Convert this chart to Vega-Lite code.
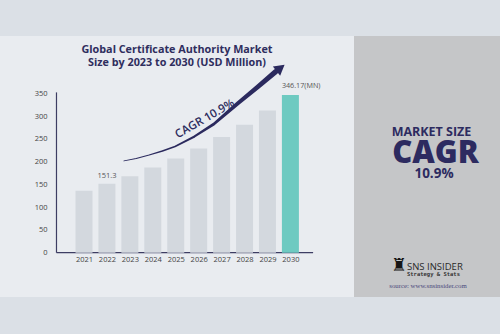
{
  "$schema": "https://vega.github.io/schema/vega-lite/v6.json",
  "background": "#dbe0e6",
  "padding": {"top": 36, "bottom": 37, "left": 0, "right": 0},
  "spacing": 0,
  "bounds": "flush",
  "config": {"view": {"stroke": null}, "font": "Open Sans"},
  "hconcat": [
    {
      "width": 354,
      "height": 261,
      "view": {"fill": "#e9ecf0"},
      "title": {
        "text": ["Global Certificate Authority Market", "Size by 2023 to 2030 (USD Million)"],
        "frame": "group",
        "anchor": "middle",
        "offset": -32,
        "fontSize": 10.8,
        "fontWeight": "bold",
        "color": "#2f2e5e",
        "lineHeight": 13.4,
        "font": "Open Sans"
      },
      "layer": [
        {
          "data": {"values": [{"a": 1}]},
          "mark": {"type": "rule", "stroke": "#3d3d63", "strokeWidth": 1.2},
          "encoding": {
            "x": {
              "datum": 2019.8,
              "type": "quantitative",
              "scale": {"domain": [2017.555, 2032.555], "nice": false, "zero": false},
              "axis": {
                "offset": -44.3,
                "values": [2021, 2022, 2023, 2024, 2025, 2026, 2027, 2028, 2029, 2030],
                "format": "d",
                "domain": false,
                "ticks": false,
                "tickSize": 0,
                "grid": false,
                "labelPadding": 3,
                "labelFontSize": 7.5,
                "labelColor": "#444",
                "labelFlush": false,
                "labelOverlap": false,
                "zindex": 1,
                "title": null
              }
            },
            "x2": {"datum": 2030.99},
            "y": {
              "datum": 0,
              "type": "quantitative",
              "scale": {"domain": [-97.3, 475.8], "nice": false, "zero": false},
              "axis": {
                "orient": "left",
                "offset": -53,
                "values": [0, 50, 100, 150, 200, 250, 300, 350],
                "domain": false,
                "ticks": false,
                "tickSize": 0,
                "grid": false,
                "labelPadding": 6,
                "labelFontSize": 7.5,
                "labelColor": "#444",
                "labelOverlap": false,
                "zindex": 1,
                "title": null
              }
            }
          }
        },
        {
          "data": {"values": [{"a": 1}]},
          "mark": {"type": "rule", "stroke": "#3d3d63", "strokeWidth": 1.2},
          "encoding": {
            "x": {
              "datum": 2019.8,
              "type": "quantitative",
              "scale": {"domain": [2017.555, 2032.555], "nice": false, "zero": false},
              "axis": {
                "offset": -44.3,
                "values": [2021, 2022, 2023, 2024, 2025, 2026, 2027, 2028, 2029, 2030],
                "format": "d",
                "domain": false,
                "ticks": false,
                "tickSize": 0,
                "grid": false,
                "labelPadding": 3,
                "labelFontSize": 7.5,
                "labelColor": "#444",
                "labelFlush": false,
                "labelOverlap": false,
                "zindex": 1,
                "title": null
              }
            },
            "y": {
              "datum": 0,
              "type": "quantitative",
              "scale": {"domain": [-97.3, 475.8], "nice": false, "zero": false},
              "axis": {
                "orient": "left",
                "offset": -53,
                "values": [0, 50, 100, 150, 200, 250, 300, 350],
                "domain": false,
                "ticks": false,
                "tickSize": 0,
                "grid": false,
                "labelPadding": 6,
                "labelFontSize": 7.5,
                "labelColor": "#444",
                "labelOverlap": false,
                "zindex": 1,
                "title": null
              }
            },
            "y2": {"datum": 352}
          }
        },
        {
          "data": {
            "values": [
              {"year": 2021, "value": 136},
              {"year": 2022, "value": 151.3},
              {"year": 2023, "value": 168},
              {"year": 2024, "value": 187},
              {"year": 2025, "value": 207},
              {"year": 2026, "value": 229},
              {"year": 2027, "value": 254},
              {"year": 2028, "value": 281},
              {"year": 2029, "value": 312},
              {"year": 2030, "value": 346.17}
            ]
          },
          "encoding": {
            "x": {
              "field": "year",
              "type": "quantitative",
              "scale": {"domain": [2017.555, 2032.555], "nice": false, "zero": false},
              "axis": {
                "offset": -44.3,
                "values": [2021, 2022, 2023, 2024, 2025, 2026, 2027, 2028, 2029, 2030],
                "format": "d",
                "domain": false,
                "ticks": false,
                "tickSize": 0,
                "grid": false,
                "labelPadding": 3,
                "labelFontSize": 7.5,
                "labelColor": "#444",
                "labelFlush": false,
                "labelOverlap": false,
                "zindex": 1,
                "title": null
              }
            },
            "y": {
              "field": "value",
              "type": "quantitative",
              "scale": {"domain": [-97.3, 475.8], "nice": false, "zero": false},
              "axis": {
                "orient": "left",
                "offset": -53,
                "values": [0, 50, 100, 150, 200, 250, 300, 350],
                "domain": false,
                "ticks": false,
                "tickSize": 0,
                "grid": false,
                "labelPadding": 6,
                "labelFontSize": 7.5,
                "labelColor": "#444",
                "labelOverlap": false,
                "zindex": 1,
                "title": null
              }
            }
          },
          "layer": [
            {
              "mark": {"type": "bar", "width": 17},
              "encoding": {
                "color": {"condition": {"test": "datum.year === 2030", "value": "#6ecac1"}, "value": "#d3d8de"}
              }
            },
            {
              "transform": [{"filter": "datum.year === 2022"}],
              "mark": {"type": "text", "baseline": "bottom", "dy": -4, "fontSize": 7.5, "color": "#555"},
              "encoding": {"text": {"field": "value", "type": "quantitative", "format": ".1f"}}
            },
            {
              "transform": [
                {"filter": "datum.year === 2030"},
                {"calculate": "format(datum.value, '.2f') + '(MN)'", "as": "label"}
              ],
              "mark": {"type": "text", "align": "left", "dx": -8.5, "baseline": "bottom", "dy": -5, "fontSize": 7.2, "color": "#555"},
              "encoding": {"text": {"field": "label"}}
            },
            {
              "data": {
                "values": [
                  {"year": 2022.74, "value": 201.4},
                  {"year": 2023.275, "value": 206.9},
                  {"year": 2023.84, "value": 214.5},
                  {"year": 2024.42, "value": 223.3},
                  {"year": 2024.97, "value": 233.2},
                  {"year": 2025.82, "value": 255.2},
                  {"year": 2026.665, "value": 282.6},
                  {"year": 2027.725, "value": 328.7},
                  {"year": 2028.57, "value": 363.9},
                  {"year": 2029.34, "value": 396.8}
                ]
              },
              "mark": {"type": "trail", "color": "#2b2a5e"},
              "encoding": {
                "size": {"field": "value", "type": "quantitative", "scale": {"domain": [200, 400], "range": [0.8, 5.5]}, "legend": null}
              }
            },
            {
              "data": {"values": [{"year": 2029.57, "value": 405.6}]},
              "mark": {"type": "point", "shape": "triangle-up", "filled": true, "size": 140, "angle": 52, "color": "#2b2a5e", "opacity": 1}
            },
            {
              "data": {"values": [{"year": 2026.28, "value": 292.9, "t": "CAGR 10.9%"}]},
              "mark": {"type": "text", "angle": -30, "fontSize": 11.5, "fontWeight": 600, "color": "#2d2c5e"},
              "encoding": {"text": {"field": "t"}}
            }
          ]
        }
      ]
    },
    {
      "width": 146,
      "height": 261,
      "view": {"fill": "#c5c6c8"},
      "layer": [
        {
          "data": {"values": [{"t": "MARKET SIZE"}]},
          "mark": {"type": "text", "fontWeight": "bold", "fontSize": 12.5, "color": "#2d2b60", "baseline": "alphabetic", "dx": 4.5, "dy": -31},
          "encoding": {"text": {"field": "t"}}
        },
        {
          "data": {"values": [{"t": "CAGR"}]},
          "mark": {"type": "text", "fontWeight": 800, "fontSize": 31, "color": "#2d2b60", "baseline": "alphabetic", "dx": 8.5, "dy": -3.5},
          "encoding": {"text": {"field": "t"}}
        },
        {
          "data": {"values": [{"t": "10.9%"}]},
          "mark": {"type": "text", "fontWeight": "bold", "fontSize": 13.5, "color": "#2d2b60", "baseline": "alphabetic", "dx": 7, "dy": 11.5},
          "encoding": {"text": {"field": "t"}}
        },
        {
          "data": {"values": [{"t": "♜"}]},
          "mark": {"type": "text", "font": "DejaVu Sans", "fontSize": 18, "color": "#151515", "baseline": "alphabetic", "dx": -28, "dy": 104.5},
          "encoding": {"text": {"field": "t"}}
        },
        {
          "data": {"values": [{"t": "SNS INSIDER"}]},
          "mark": {"type": "text", "fontSize": 9.5, "color": "#2a2a2a", "align": "left", "baseline": "alphabetic", "dx": -20, "dy": 103},
          "encoding": {"text": {"field": "t"}}
        },
        {
          "data": {"values": [{"t": "Strategy & Stats"}]},
          "mark": {"type": "text", "font": "DejaVu Sans Mono", "fontWeight": "bold", "fontSize": 5.5, "color": "#333", "align": "left", "baseline": "alphabetic", "dx": -20, "dy": 109.5},
          "encoding": {"text": {"field": "t"}}
        },
        {
          "data": {"values": [{"t": "source: www.snsinsider.com"}]},
          "mark": {"type": "text", "font": "Liberation Serif", "fontSize": 6.8, "color": "#4b4a7c", "baseline": "alphabetic", "dx": 1, "dy": 121},
          "encoding": {"text": {"field": "t"}}
        }
      ]
    }
  ]
}
